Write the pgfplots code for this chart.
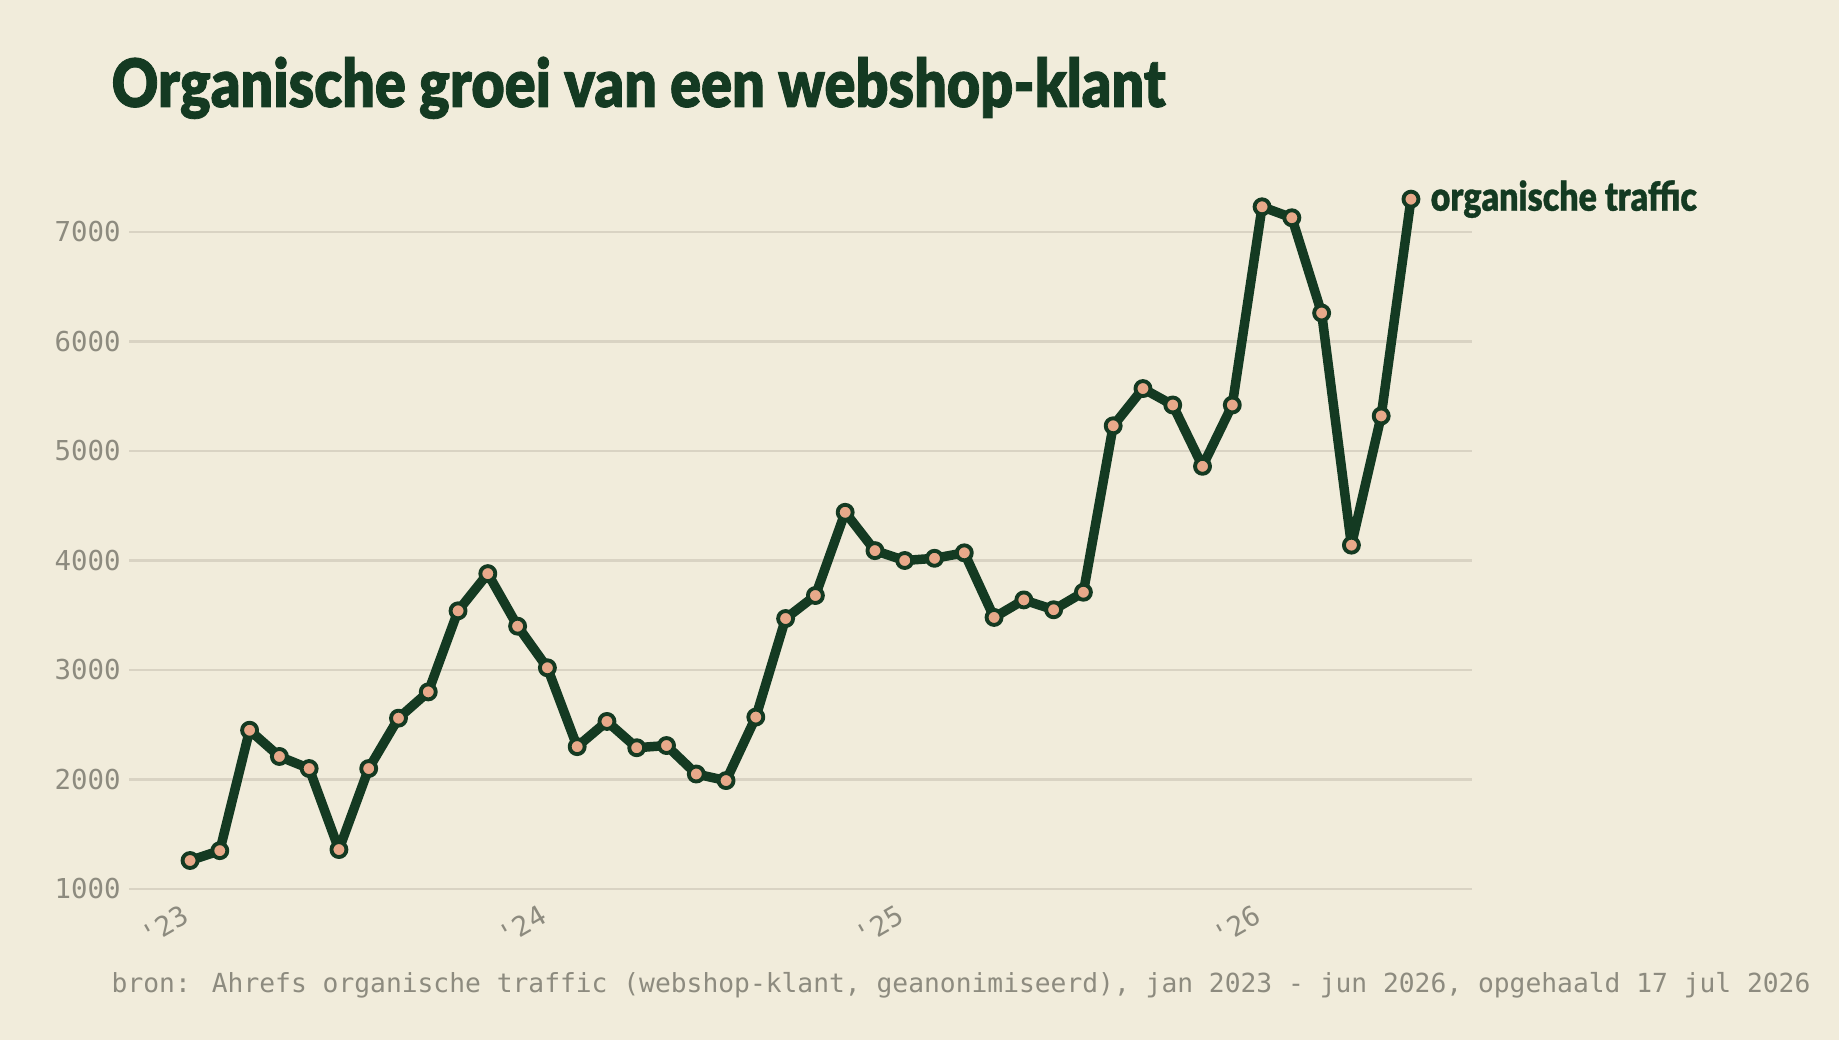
\documentclass[border=0pt]{standalone}
\usepackage{fontspec}
\usepackage{pgfplots}
\pgfplotsset{compat=1.18}
\setmainfont{Lato}
\newfontfamily\titlefont{Lato Black}[FakeStretch=0.86, FakeBold=1.2]
\newfontfamily\labelfont{Lato Black}[FakeStretch=0.84, FakeBold=0.8]
\newfontfamily\monofont{DejaVu Sans Mono}

\definecolor{bg}{HTML}{F1ECDB}
\definecolor{ink}{HTML}{143A22}
\definecolor{dot}{HTML}{E8A98A}
\definecolor{gridc}{HTML}{D9D3C3}
\definecolor{muted}{HTML}{8D8B7F}

% monthly organic traffic, jan 2023 = 0
\pgfplotstableread{
m  v
0  1260
1  1350
2  2450
3  2210
4  2100
5  1360
6  2100
7  2560
8  2800
9  3540
10 3880
11 3400
12 3020
13 2300
14 2530
15 2290
16 2310
17 2050
18 1990
19 2570
20 3470
21 3680
22 4440
23 4090
24 4000
25 4020
26 4070
27 3480
28 3640
29 3550
30 3710
31 5230
32 5570
33 5420
34 4860
35 5420
36 7230
37 7130
38 6260
39 4140
40 5320
41 7300
}\traffic

\begin{document}
\begin{tikzpicture}[x=1mm,y=1mm]
\fill[bg] (0,0) rectangle (183.9,104.0);
\node[anchor=base west, inner sep=0pt, text=ink, font=\titlefont\fontsize{19}{22}\selectfont]
  at (11.1,93.3) {Organische groei van een webshop-klant};
\node[anchor=base west, inner sep=0pt, text=muted, font=\monofont\fontsize{7.48}{9}\selectfont]
  at (11.1,4.7) {bron: Ahrefs organische traffic (webshop-klant, geanonimiseerd), jan 2023 - jun 2026, opgehaald 17 jul 2026};
\begin{axis}[
  at={(12.9mm,15.1mm)}, anchor=south west,
  scale only axis, width=134.3mm, height=65.7mm,
  xmin=-2.05, xmax=43.05, ymin=1000, ymax=7000,
  clip=false,
  axis line style={draw=none},
  major tick length=0pt,
  ymajorgrids, grid style={gridc, line width=0.8pt},
  ytick={1000,2000,...,7000},
  xtick={0,12,24,36}, xticklabels={'23,'24,'25,'26},
  yticklabel style={text=muted, font=\monofont\fontsize{7.8}{9}\selectfont, xshift=0.4mm},
  xticklabel style={text=muted, font=\monofont\fontsize{7.8}{9}\selectfont, rotate=30, anchor=north east, inner sep=0.5pt, xshift=-1.3mm, yshift=-0.6mm},
  /pgf/number format/assume math mode=true,
  /pgf/number format/1000 sep={},
]
\addplot[ink, line width=2.7pt, line join=round,
  mark=*, mark size=0.75mm, mark options={fill=dot, draw=ink, line width=1.1pt}]
  table[x=m, y=v] {\traffic}
  node[pos=1, right=1.5mm, inner sep=0pt, text=ink, font=\labelfont\fontsize{11.5}{13}\selectfont] {organische traffic};
\end{axis}
\end{tikzpicture}
\end{document}
